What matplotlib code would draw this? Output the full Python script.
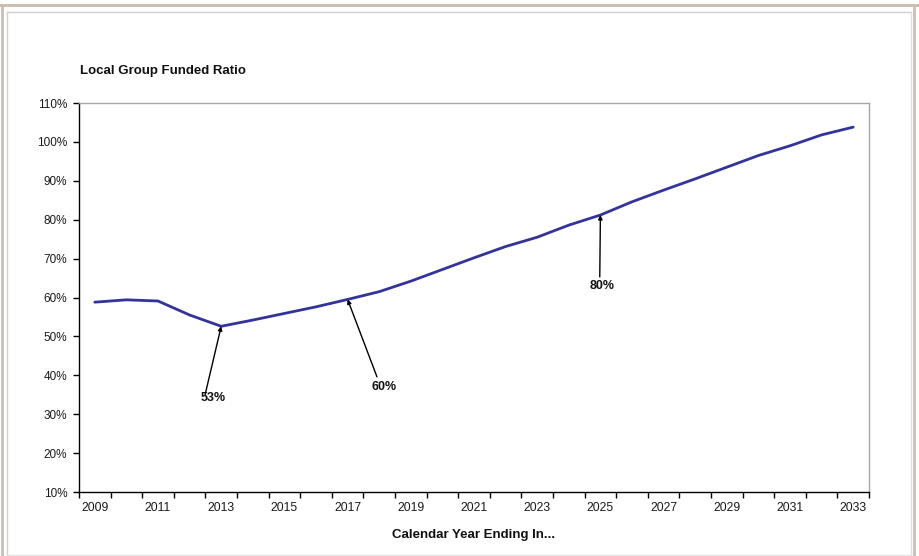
import matplotlib
matplotlib.use("Agg")
import matplotlib.pyplot as plt
from matplotlib.lines import Line2D
from matplotlib.ticker import FixedLocator, NullFormatter, FuncFormatter

plt.rcParams['font.family'] = ['Liberation Sans', 'DejaVu Sans']

# Funded ratio projection, calendar years 2009-2033
years = list(range(2009, 2034))
funded_ratio = [58.8, 59.4, 59.1, 55.5, 52.6, 54.2, 55.9, 57.6, 59.5, 61.5,
                64.2, 67.2, 70.2, 73.1, 75.5, 78.6, 81.2, 84.6, 87.6, 90.5,
                93.5, 96.5, 99.0, 101.8, 103.8]
year_labels = [str(y) for y in years[::2]]

# Callouts: (year, label text, text position, arrow tail position)
callout_years = [2013, 2017, 2025]
callout_text = ["53%", "60%", "80%"]
callout_text_xy = [(2012.74, 34.2), (2018.15, 37.0), (2025.05, 63.0)]
callout_tail_xy = [(2012.49, 35.0), (2017.93, 39.6), (2024.98, 65.3)]

title_text = "Local Group Funded Ratio"
xlabel_text = "Calendar Year Ending In..."

W, H = 920, 556
fig = plt.figure(figsize=(W / 100, H / 100), dpi=100)
fig.patch.set_facecolor("white")

# Outer frame lines
frame = "#C9C0B2"
fig.add_artist(Line2D([0, 1], [1 - 5 / H, 1 - 5 / H], color=frame, lw=2.2, transform=fig.transFigure))
fig.add_artist(Line2D([2.5 / W, 2.5 / W], [0, 1 - 5 / H], color=frame, lw=2.0, transform=fig.transFigure))
fig.add_artist(Line2D([914 / W, 914 / W], [0, 1 - 5 / H], color=frame, lw=2.0, transform=fig.transFigure))
# Inner chart-area box
box = "#D0D0D0"
fig.add_artist(Line2D([7.5 / W, 7.5 / W], [1.5 / H, 1 - 12 / H], color=box, lw=1.0, transform=fig.transFigure))
fig.add_artist(Line2D([7.5 / W, 911 / W], [1 - 12 / H, 1 - 12 / H], color=box, lw=1.0, transform=fig.transFigure))
fig.add_artist(Line2D([911 / W, 911 / W], [1.5 / H, 1 - 12 / H], color="#E0E0E0", lw=1.0, transform=fig.transFigure))
fig.add_artist(Line2D([7.5 / W, 911 / W], [1.5 / H, 1.5 / H], color="#E4E4E4", lw=1.0, transform=fig.transFigure))

ax = fig.add_axes([79 / W, 1 - 492 / H, (869 - 79) / W, (492 - 103) / H])
ax.set_facecolor("white")

ax.plot(years, funded_ratio, color="#333399", lw=2.0, solid_capstyle="round", zorder=3)

ax.set_xlim(years[0] - 0.5, years[-1] + 0.5)
ax.set_ylim(10, 110)

# Category boundaries carry tick marks; every other category is labelled
ax.xaxis.set_major_locator(FixedLocator([y - 0.5 for y in years] + [years[-1] + 0.5]))
ax.xaxis.set_major_formatter(NullFormatter())
ax.xaxis.set_minor_locator(FixedLocator(years[::2]))
ax.set_xticklabels(year_labels, minor=True)
ax.tick_params(axis="x", which="major", direction="out", length=4.5, width=1.0, color="black")
ax.tick_params(axis="x", which="minor", length=0, pad=7, labelsize=8.8, labelcolor="#1a1a1a")

ax.set_yticks(range(10, 111, 10))
ax.yaxis.set_major_formatter(FuncFormatter(lambda v, p: f"{int(round(v))}%"))
ax.tick_params(axis="y", direction="out", length=4.5, width=1.0, pad=4, labelsize=8.5,
               labelcolor="#1a1a1a", color="black")

for side in ("left", "bottom"):
    ax.spines[side].set_color("black")
    ax.spines[side].set_linewidth(1.0)
for side in ("top", "right"):
    ax.spines[side].set_color("#A6A6A6")
    ax.spines[side].set_linewidth(1.0)

ax.set_xlabel(xlabel_text, fontsize=9.5, fontweight="bold", labelpad=11, color="#111111")

fig.text(80 / W, 1 - 71 / H, title_text, fontsize=9.5, fontweight="bold",
         ha="left", va="center", color="#111111")

for yr, txt, txy, tail in zip(callout_years, callout_text, callout_text_xy, callout_tail_xy):
    val = funded_ratio[years.index(yr)]
    ax.annotate("", xy=(yr, val), xytext=tail,
                arrowprops=dict(arrowstyle="-|>", color="black", lw=1.0,
                                mutation_scale=6, shrinkA=0, shrinkB=0),
                zorder=4)
    ax.text(txy[0], txy[1], txt, ha="center", va="center", fontsize=9,
            fontweight="bold", color="#111111")

fig.savefig("out.png", dpi=100, facecolor="white")
